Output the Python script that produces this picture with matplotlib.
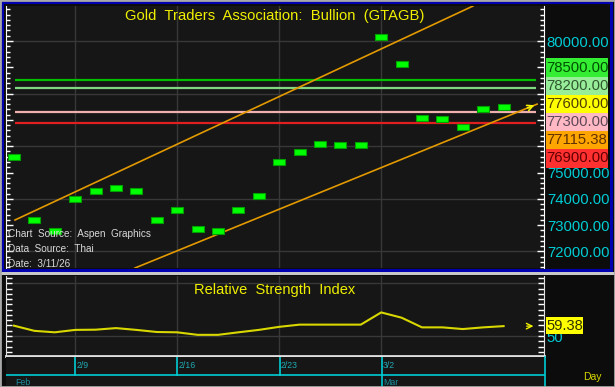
import numpy as np
import matplotlib.pyplot as plt
from matplotlib.patches import Rectangle

# daily bars (trading days from 2/4 to 3/10)
days = np.arange(25)
price = [75590, 73190, 72775, 74000, 74300, 74410, 74300, 73190, 73570, 72850,
         72775, 73570, 74100, 75400, 75780, 76080, 76050, 76050, 80150, 79130,
         77070, 77030, 76730, 77410, 77490]

rsi = [59.8, 54.9, 53.5, 55.8, 56.0, 57.5, 55.8, 53.8, 53.5, 51.1,
       51.1, 53.5, 55.8, 58.7, 60.8, 60.8, 60.8, 60.8, 72.4, 67.4,
       58.2, 58.2, 56.6, 58.2, 59.38]

# horizontal levels
levels = [78500, 78200, 77300, 76900]
level_colors = ['#00c000', '#80d880', '#f0b0b0', '#e02020']

# trend channel
upper_x = [0.05, 22.5]
upper_y = [73194, 81330]
lower_x = [5.93, 25.64]
lower_y = [71369, 77600]

# price scale labels (the ones under the level boxes are hidden)
scale_vals = [72000, 73000, 74000, 75000, 76000, 77000, 78000, 79000, 80000]
scale_shown = [True, True, True, True, False, False, False, False, True]

# right side label boxes
box_text = ['78500.00', '78200.00', '77600.00', '77300.00', '77115.38', '76900.00']
box_face = ['#33ee33', '#98ee98', '#ffff00', '#ffb8c4', '#ffa500', '#ff3030']
box_ink = ['#005000', '#305830', '#504000', '#604858', '#603000', '#600000']

date_pos = [3, 8, 13, 18]
date_labels = ['2/9', '2/16', '2/23', '3/2']

W, H = 615, 387
BG = '#0c0c0c'
PANEL = '#161616'
GRID = '#383838'
CYAN = '#00ccd4'
YEL = '#f0f000'
plt.rcParams['font.family'] = 'Liberation Sans'

def fx(px):
    return px / W

def fy(py):
    return 1 - py / H

fig = plt.figure(figsize=(W / 100, H / 100), dpi=100, facecolor=BG)

ax = fig.add_axes([fx(6), fy(268), fx(544) - fx(6), fy(6) - fy(268)], facecolor=PANEL)
ax2 = fig.add_axes([fx(6), fy(356), fx(544) - fx(6), fy(276) - fy(356)], facecolor=PANEL)
ax3 = fig.add_axes([fx(6), 0, fx(545) - fx(6), fy(357)], facecolor=PANEL)

xlim = (-0.39, 25.98)

# ---- main price panel
ax.set_xlim(xlim)
ax.set_ylim(71369, 81331)
for d in date_pos:
    ax.axvline(d, color=GRID, lw=1, zorder=0)
for g in [72000, 74000, 76000, 78000, 80000]:
    ax.axhline(g, color=GRID, lw=1, zorder=0)

ax.hlines(levels, 0.05, 25.6, colors=level_colors, lw=1.6, zorder=2)
ax.plot(upper_x, upper_y, color='#e39a00', lw=1.2, zorder=3)
ax.plot(lower_x, lower_y, color='#e39a00', lw=1.2, zorder=3)
ax.annotate('', xy=(lower_x[1], lower_y[1]), xytext=(lower_x[1] - 0.6, lower_y[1] - 190),
            arrowprops=dict(arrowstyle='->', color=YEL, lw=1.2), zorder=4)

rect = [(-1, -0.55), (1, -0.55), (1, 0.55), (-1, 0.55), (-1, -0.55)]
ax.plot(days, price, ls='none', marker=rect, ms=8.8, mfc='#00ff00', mec='#00a000',
        mew=0.8, zorder=5)

ax.yaxis.tick_right()
ax.set_yticks(scale_vals)
ax.set_yticklabels(['%.2f' % v if s else '' for v, s in zip(scale_vals, scale_shown)])
ax.set_yticks(np.arange(71400, 81400, 200), minor=True)
ax.tick_params(axis='y', which='both', direction='in', colors='white', labelcolor=CYAN,
               labelsize=10.7, left=True, right=True, pad=2)
ax.tick_params(axis='y', which='major', length=5, width=1)
ax.tick_params(axis='y', which='minor', length=3, width=1)
ax.set_xticks([])
for s in ['top', 'bottom']:
    ax.spines[s].set_visible(False)
for s in ['left', 'right']:
    ax.spines[s].set_color('white')

fig.text(fx(274.5), fy(16), 'Gold  Traders  Association:  Bullion  (GTAGB)', color=YEL,
         ha='center', va='center', fontsize=10.6)

src = ['Chart  Source:  Aspen  Graphics', 'Data  Source:  Thai', 'Date:  3/11/26']
for k, t in enumerate(src):
    ax.text(0.004, 0.13 - k * 0.057, t, transform=ax.transAxes, color='#d8d8d8',
            fontsize=7.2, va='center', zorder=6)

# stacked level boxes on the price scale
for k, t in enumerate(box_text):
    yc = 67.5 + k * 18.2
    fig.patches.append(Rectangle((fx(545.5), fy(yc + 9.1)), fx(608) - fx(545.5),
                                 fy(yc - 9.1) - fy(yc + 9.1), transform=fig.transFigure,
                                 fc=box_face[k], ec='none'))
    fig.text(fx(546.5), fy(yc), t, color=box_ink[k], fontsize=10.7, ha='left', va='center')

# ---- RSI panel
ax2.set_xlim(xlim)
ax2.set_ylim(31, 107)
for d in date_pos:
    ax2.axvline(d, color=GRID, lw=1, zorder=0)
for g in [50, 100]:
    ax2.axhline(g, color=GRID, lw=1, zorder=0)
ax2.plot(days, rsi, color='#d8d800', lw=1.5, zorder=3)
ax2.annotate('', xy=(25.6, rsi[-1]), xytext=(25.0, rsi[-1]),
             arrowprops=dict(arrowstyle='->', color=YEL, lw=1), zorder=4)
ax2.yaxis.tick_right()
ax2.set_yticks([50])
ax2.set_yticklabels(['50'])
ax2.set_yticks(np.arange(35, 106, 5), minor=True)
ax2.tick_params(axis='y', which='both', direction='in', colors='white', labelcolor=CYAN,
                labelsize=10.7, left=True, right=True, pad=2, length=4, width=1)
ax2.set_xticks([])
ax2.spines['top'].set_visible(False)
for s in ['left', 'right', 'bottom']:
    ax2.spines[s].set_color('#e0e0e0')
ax2.spines['bottom'].set_linewidth(2)
ax2.text(0.5, 0.82, 'Relative  Strength  Index', transform=ax2.transAxes, color=YEL,
         ha='center', va='center', fontsize=10.5)
yr = 325.5
fig.patches.append(Rectangle((fx(545.5), fy(yr + 8.5)), fx(583) - fx(545.5),
                             fy(yr - 8.5) - fy(yr + 8.5), transform=fig.transFigure,
                             fc='#ffff00', ec='none'))
fig.text(fx(546.5), fy(yr), '%.2f' % rsi[-1], color='#303000', fontsize=10.6,
         ha='left', va='center')

# ---- date strip
ax3.set_xlim(xlim)
ax3.set_ylim(0, 1)
ax3.axhline(0.4, color=CYAN, lw=1.2)
for d, lab in zip(date_pos, date_labels):
    ax3.axvline(d, ymin=0 if lab == '3/2' else 0.4, ymax=1, color=CYAN, lw=1.2)
    ax3.text(d + 0.06, 0.7, lab, color='#20a8b0', fontsize=6.3, va='center')
ax3.text(0.05, 0.15, 'Feb', color='#1890a0', fontsize=6.3, va='center')
ax3.text(18.06, 0.15, 'Mar', color='#1890a0', fontsize=6.3, va='center')
ax3.set_xticks([])
ax3.set_yticks([])
for s in ['top', 'left', 'bottom']:
    ax3.spines[s].set_visible(False)
ax3.spines['right'].set_color(CYAN)
ax3.spines['right'].set_linewidth(1.2)
fig.text(fx(592), fy(377), 'Day', color='#d8d800', fontsize=7.5, ha='center', va='center')

# frames: blue border round the price panel, grey separator and outer edge
fig.patches.append(Rectangle((fx(2), fy(270)), fx(611) - fx(2), fy(2) - fy(270),
                             transform=fig.transFigure, fill=False, ec='#0000b0', lw=2.2))
fig.patches.append(Rectangle((0, fy(275)), 1, fy(272) - fy(275), transform=fig.transFigure,
                             fc='#c8c8c8', ec='none'))
fig.patches.append(Rectangle((0, 0), 1, 1, transform=fig.transFigure, fill=False,
                             ec='#a8a8a8', lw=2))

plt.savefig('out.png', dpi=100, facecolor=BG)
